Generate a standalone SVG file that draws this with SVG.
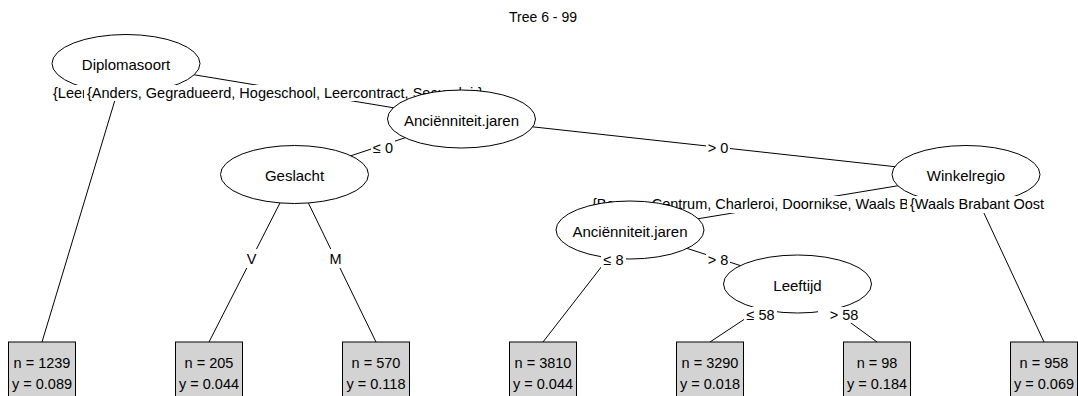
<svg xmlns="http://www.w3.org/2000/svg" width="1078" height="396" viewBox="0 0 1078 396">
  <style>
    text { font-family: "Liberation Sans", Arial, sans-serif; fill: #000; dominant-baseline: central; }
    .title { font-size: 14px; text-anchor: middle; }
    .inner ellipse { fill: #fff; stroke: #000; stroke-width: 1; }
    .inner > text { font-size: 15px; text-anchor: middle; }
    .lbl rect { fill: #fff; stroke: none; }
    .lbl text { font-size: 14.5px; text-anchor: middle; }
    .lbl text.st { text-anchor: start; }
    .leaf rect { fill: #d3d3d3; stroke: #000; stroke-width: 1; }
    .leaf text { font-size: 14.5px; text-anchor: middle; }
    #edges line { stroke: #000; stroke-width: 1; }
  </style>

  <text class="title" x="543" y="17">Tree 6 - 99</text>

  <!-- edges: from node centre to child centre / leaf top -->
  <g id="edges">
    <line x1="126" y1="63.5" x2="42" y2="342"/>
    <line x1="126" y1="63.5" x2="461.5" y2="119"/>
    <line x1="461.5" y1="119" x2="294.5" y2="174.5"/>
    <line x1="461.5" y1="119" x2="966" y2="174.5"/>
    <line x1="294.5" y1="174.5" x2="209" y2="342"/>
    <line x1="294.5" y1="174.5" x2="376" y2="342"/>
    <line x1="966" y1="174.5" x2="630" y2="230"/>
    <line x1="966" y1="174.5" x2="1044" y2="342"/>
    <line x1="630" y1="230" x2="543" y2="342"/>
    <line x1="630" y1="230" x2="797.5" y2="284"/>
    <line x1="797.5" y1="284" x2="710" y2="342"/>
    <line x1="797.5" y1="284" x2="877" y2="342"/>
  </g>

  <!-- node 1 -->
  <g id="n1" class="inner">
    <ellipse cx="126" cy="63.5" rx="74" ry="29"/>
    <text x="126" y="64">Diplomasoort</text>
    <g class="lbl">
      <rect x="50" y="85" width="40" height="16"/>
      <text class="st" x="53" y="93">{Leer</text>
      <rect x="84" y="85" width="414" height="16"/>
      <text class="st" x="87" y="93">{Anders, Gegradueerd, Hogeschool, Leercontract, Secundair}</text>
    </g>
  </g>

  <!-- node 2 -->
  <g id="n2" class="leaf">
    <rect x="8.5" y="342" width="67" height="60"/>
    <text x="42" y="363">n = 1239</text>
    <text x="42" y="384">y = 0.089</text>
  </g>

  <!-- node 3 -->
  <g id="n3" class="inner">
    <ellipse cx="461.5" cy="119" rx="74" ry="29"/>
    <text x="461.5" y="120">Anciënniteit.jaren</text>
    <g class="lbl">
      <rect x="371" y="140" width="24" height="16"/>
      <text x="383" y="148">≤ 0</text>
      <rect x="706" y="140" width="24" height="16"/>
      <text x="718" y="148">&gt; 0</text>
    </g>
  </g>

  <!-- node 4 -->
  <g id="n4" class="inner">
    <ellipse cx="294.5" cy="174.5" rx="74" ry="29"/>
    <text x="294.5" y="175">Geslacht</text>
    <g class="lbl">
      <rect x="244" y="249" width="15" height="19"/>
      <text x="251.5" y="259">V</text>
      <rect x="327" y="249" width="17" height="19"/>
      <text x="335.5" y="259">M</text>
    </g>
  </g>

  <!-- node 5 -->
  <g id="n5" class="leaf">
    <rect x="175.5" y="342" width="67" height="60"/>
    <text x="209" y="363">n = 205</text>
    <text x="209" y="384">y = 0.044</text>
  </g>

  <!-- node 6 -->
  <g id="n6" class="leaf">
    <rect x="342.5" y="342" width="67" height="60"/>
    <text x="376" y="363">n = 570</text>
    <text x="376" y="384">y = 0.118</text>
  </g>

  <!-- node 7 -->
  <g id="n7" class="inner">
    <ellipse cx="966" cy="174.5" rx="74" ry="29"/>
    <text x="966" y="175">Winkelregio</text>
    <g class="lbl">
      <rect x="589" y="196" width="323" height="17"/>
      <text class="st" x="592" y="204">{Bergen, Centrum, Charleroi, Doornikse, Waals B</text>
      <rect x="907" y="196" width="145" height="17"/>
      <text class="st" x="910" y="204">{Waals Brabant Oost</text>
    </g>
  </g>

  <!-- node 8 -->
  <g id="n8" class="inner">
    <ellipse cx="630" cy="230" rx="74" ry="29"/>
    <text x="630" y="231">Anciënniteit.jaren</text>
    <g class="lbl">
      <rect x="601" y="252" width="25" height="16"/>
      <text x="613.5" y="260">≤ 8</text>
      <rect x="706" y="252" width="24" height="16"/>
      <text x="718" y="260">&gt; 8</text>
    </g>
  </g>

  <!-- node 9 -->
  <g id="n9" class="leaf">
    <rect x="509.5" y="342" width="67" height="60"/>
    <text x="543" y="363">n = 3810</text>
    <text x="543" y="384">y = 0.044</text>
  </g>

  <!-- node 10 -->
  <g id="n10" class="inner">
    <ellipse cx="797.5" cy="284" rx="74" ry="29"/>
    <text x="797.5" y="285">Leeftijd</text>
    <g class="lbl">
      <rect x="744" y="307" width="33" height="16"/>
      <text x="760.5" y="315">≤ 58</text>
      <rect x="818" y="307" width="44" height="16"/>
      <text x="844" y="315">&gt; 58</text>
    </g>
  </g>

  <!-- node 11 -->
  <g id="n11" class="leaf">
    <rect x="676.5" y="342" width="67" height="60"/>
    <text x="710" y="363">n = 3290</text>
    <text x="710" y="384">y = 0.018</text>
  </g>

  <!-- node 12 -->
  <g id="n12" class="leaf">
    <rect x="843.5" y="342" width="67" height="60"/>
    <text x="877" y="363">n = 98</text>
    <text x="877" y="384">y = 0.184</text>
  </g>

  <!-- node 13 -->
  <g id="n13" class="leaf">
    <rect x="1010.5" y="342" width="67" height="60"/>
    <text x="1044" y="363">n = 958</text>
    <text x="1044" y="384">y = 0.069</text>
  </g>
</svg>
